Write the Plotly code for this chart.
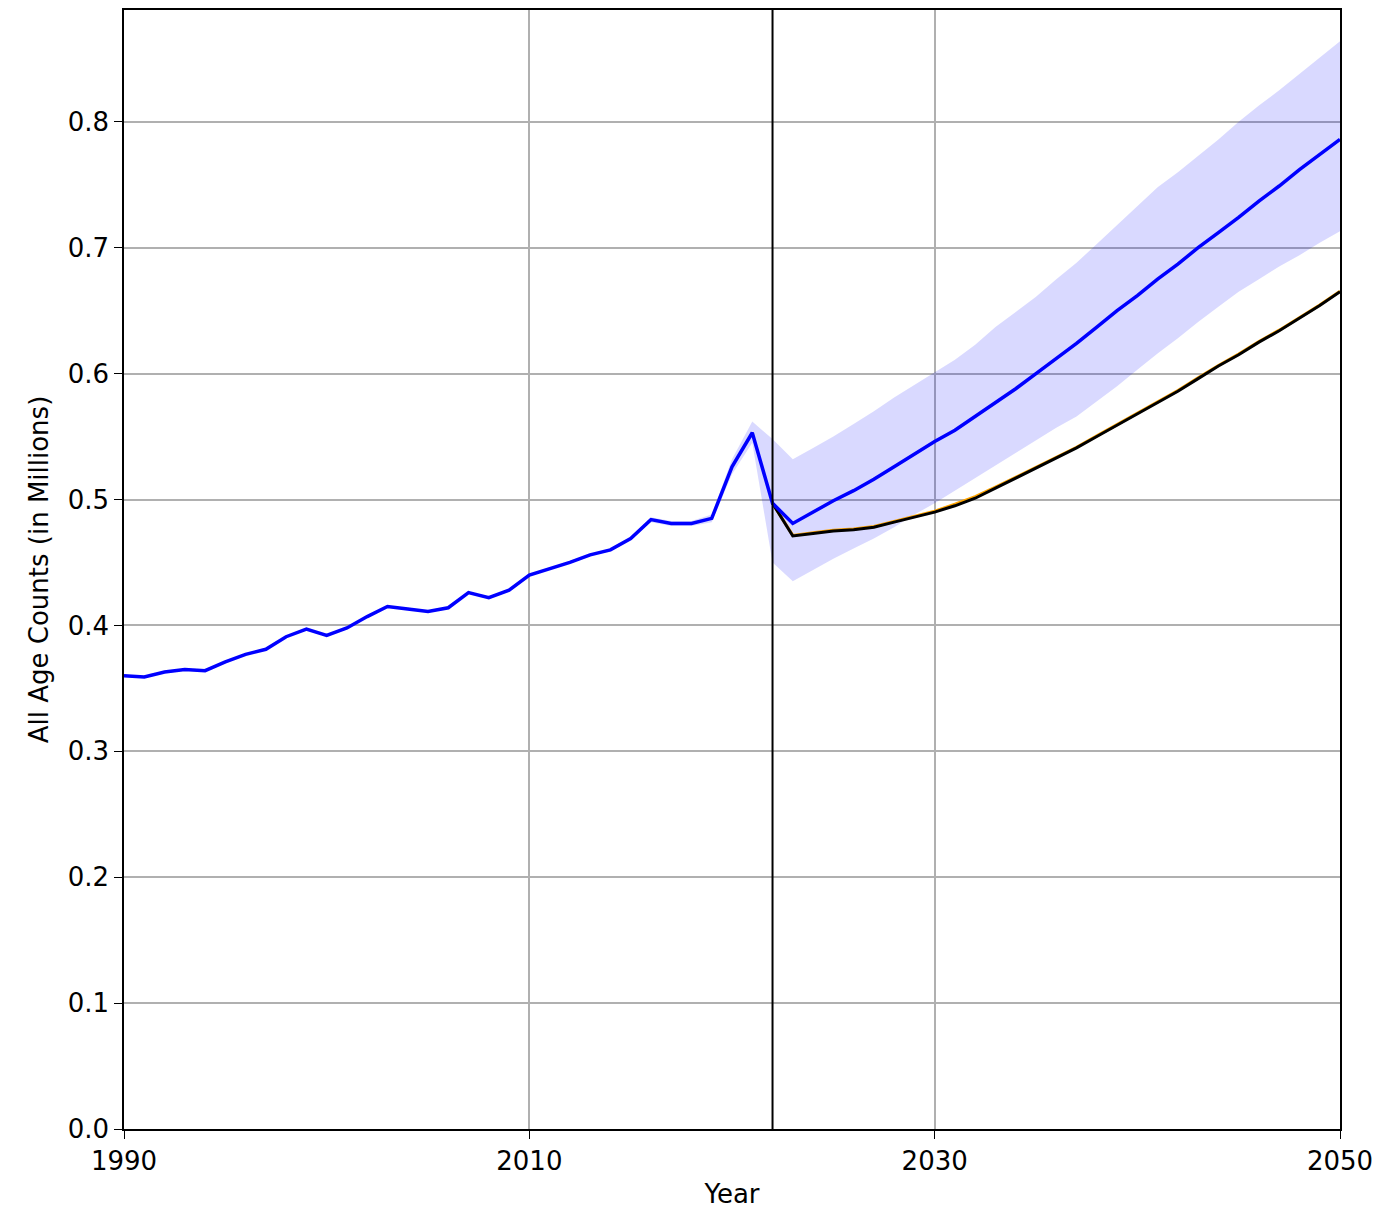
import plotly.graph_objects as go

hist_years = list(range(1990, 2023))
hist_vals = [0.360, 0.359, 0.363, 0.365, 0.364, 0.371, 0.377, 0.381, 0.391, 0.397,
             0.392, 0.398, 0.407, 0.415, 0.413, 0.411, 0.414, 0.426, 0.422, 0.428,
             0.440, 0.445, 0.450, 0.456, 0.460, 0.469, 0.484, 0.481, 0.481, 0.485,
             0.526, 0.553, 0.497]

fc_years = list(range(2022, 2051))
fc_blue = [0.497, 0.481, 0.490, 0.499, 0.507, 0.516, 0.526, 0.536, 0.546, 0.555,
           0.566, 0.577, 0.588, 0.600, 0.612, 0.624, 0.637, 0.650, 0.662, 0.675,
           0.687, 0.700, 0.712, 0.724, 0.737, 0.749, 0.762, 0.774, 0.786]
fc_black = [0.497, 0.471, 0.473, 0.475, 0.476, 0.478, 0.482, 0.486, 0.490, 0.495,
            0.501, 0.509, 0.517, 0.525, 0.533, 0.541, 0.550, 0.559, 0.568, 0.577,
            0.586, 0.596, 0.606, 0.615, 0.625, 0.634, 0.644, 0.654, 0.665]
fc_orange = [0.497, 0.4715, 0.4735, 0.4755, 0.4765, 0.4785, 0.4825, 0.4868, 0.4908, 0.4962,
             0.5022, 0.5098, 0.5178, 0.5255, 0.5335, 0.5415, 0.5505, 0.5595, 0.5685, 0.5776,
             0.5866, 0.5966, 0.6065, 0.6155, 0.6255, 0.6345, 0.6445, 0.6545, 0.6655]

band_years = list(range(2016, 2051))
band_upper = [0.486, 0.483, 0.483, 0.488, 0.532, 0.562,
              0.548, 0.532, 0.541, 0.550, 0.560, 0.570, 0.581, 0.591, 0.601, 0.611,
              0.623, 0.637, 0.649, 0.661, 0.675, 0.688, 0.703, 0.718, 0.733, 0.748,
              0.760, 0.773, 0.786, 0.800, 0.813, 0.825, 0.838, 0.851, 0.864]
band_lower = [0.482, 0.479, 0.479, 0.482, 0.520, 0.545,
              0.450, 0.435, 0.444, 0.453, 0.461, 0.469, 0.478, 0.488, 0.497, 0.507,
              0.517, 0.527, 0.537, 0.547, 0.557, 0.566, 0.578, 0.590, 0.603, 0.616,
              0.628, 0.641, 0.653, 0.665, 0.675, 0.685, 0.694, 0.704, 0.713]

split_year = 2022

fig = go.Figure()
fig.add_trace(go.Scatter(x=band_years, y=band_lower, mode="lines",
                         line=dict(width=0), showlegend=False, hoverinfo="skip"))
fig.add_trace(go.Scatter(x=band_years, y=band_upper, mode="lines",
                         line=dict(width=0), fill="tonexty",
                         fillcolor="rgba(0,0,255,0.15)", showlegend=False, hoverinfo="skip"))
fig.add_trace(go.Scatter(x=fc_years, y=fc_orange, mode="lines",
                         line=dict(color="orange", width=3), showlegend=False))
fig.add_trace(go.Scatter(x=fc_years, y=fc_black, mode="lines",
                         line=dict(color="black", width=3), showlegend=False))
fig.add_trace(go.Scatter(x=hist_years + fc_years[1:], y=hist_vals + fc_blue[1:], mode="lines",
                         line=dict(color="blue", width=3.5), showlegend=False))

fig.add_vline(x=split_year, line=dict(color="black", width=2))

axis_common = dict(showline=True, linecolor="black", linewidth=1.5, mirror=True,
                   ticks="outside", ticklen=8, tickcolor="black",
                   showgrid=True, gridcolor="#b0b0b0", gridwidth=1.5,
                   zeroline=False, tickfont=dict(size=26, color="black"),
                   title_font=dict(size=26, color="black"))

fig.update_xaxes(range=[1990, 2050], tickvals=[1990, 2010, 2030, 2050],
                 title_text="Year", title_standoff=10, **axis_common)
fig.update_yaxes(range=[0, 0.8888], tickvals=[0, 0.1, 0.2, 0.3, 0.4, 0.5, 0.6, 0.7, 0.8],
                 tickformat=".1f", title_text="All Age Counts (in Millions)",
                 title_standoff=12, **axis_common)

fig.update_layout(width=1385, height=1213,
                  margin=dict(l=116, r=53, t=0, b=92),
                  plot_bgcolor="white", paper_bgcolor="white",
                  font=dict(family="DejaVu Sans", color="black"))

fig.write_html("out.html")
